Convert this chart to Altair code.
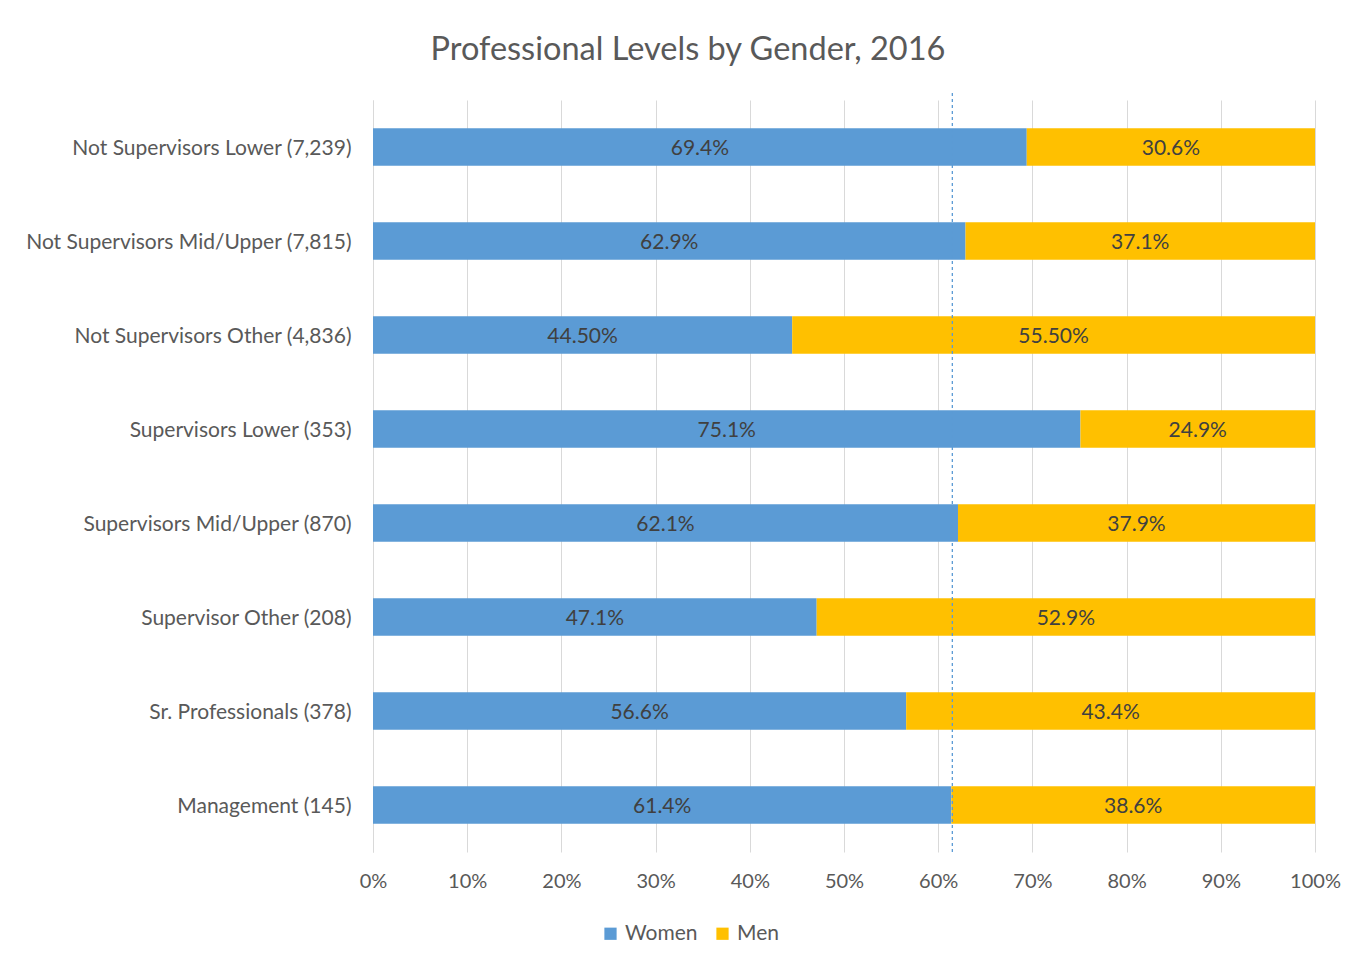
import altair as alt
import pandas as pd

categories = [
    "Not Supervisors Lower (7,239)",
    "Not Supervisors Mid/Upper (7,815)",
    "Not Supervisors Other (4,836)",
    "Supervisors Lower (353)",
    "Supervisors Mid/Upper (870)",
    "Supervisor Other (208)",
    "Sr. Professionals (378)",
    "Management (145)",
]
women = [69.4, 62.9, 44.5, 75.1, 62.1, 47.1, 56.6, 61.4]
men = [30.6, 37.1, 55.5, 24.9, 37.9, 52.9, 43.4, 38.6]
women_labels = ["69.4%", "62.9%", "44.50%", "75.1%", "62.1%", "47.1%", "56.6%", "61.4%"]
men_labels = ["30.6%", "37.1%", "55.50%", "24.9%", "37.9%", "52.9%", "43.4%", "38.6%"]
reference_line = [61.5]

rows = []
for i, c in enumerate(categories):
    rows.append({"category": c, "gender": "Women", "order": 0, "value": women[i], "label": women_labels[i]})
    rows.append({"category": c, "gender": "Men", "order": 1, "value": men[i], "label": men_labels[i]})
df = pd.DataFrame(rows)
ref_df = pd.DataFrame({"ref": reference_line})

FONT = "Lato"
GRAY = "#595959"
W, H = 942, 752

base = alt.Chart(df).transform_stack(
    stack="value", groupby=["category"], as_=["start", "end"],
    sort=[alt.SortField("order", order="ascending")]
).transform_calculate(mid="(datum.start + datum.end) / 2")

yenc = alt.Y("category:N", sort=categories, title=None,
             scale=alt.Scale(paddingInner=0.6, paddingOuter=0.3),
             axis=alt.Axis(labelFontSize=21, labelColor=GRAY, labelFont=FONT,
                           labelPadding=22, ticks=False, domain=True, labelOffset=2,
                           domainColor="#d9d9d9", labelLimit=400, grid=False))

bars = base.mark_bar().encode(
    x=alt.X("start:Q", title=None,
            scale=alt.Scale(domain=[0, 100], nice=False),
            axis=alt.Axis(values=list(range(0, 101, 10)), labelExpr="datum.value + '%'",
                          labelFontSize=20, labelColor=GRAY, labelFont=FONT,
                          labelAlign="center", labelFlush=False,
                          grid=True, gridColor="#d9d9d9", gridWidth=1,
                          domain=False, ticks=False, labelPadding=19)),
    x2="end:Q",
    y=yenc,
    color=alt.Color("gender:N", scale=alt.Scale(domain=["Women", "Men"], range=["#5b9bd5", "#ffc000"]),
                    legend=alt.Legend(title=None, orient="none", direction="horizontal",
                                      legendX=227, legendY=823, symbolType="square",
                                      symbolSize=150, labelFontSize=21, labelColor=GRAY,
                                      labelFont=FONT, columnPadding=14, symbolStrokeWidth=0)),
)

labels = base.mark_text(fontSize=21, font=FONT, color="#404040", dy=2).encode(
    x="mid:Q",
    y=alt.Y("category:N", sort=categories),
    text="label:N",
)

rule = alt.Chart(ref_df).mark_rule(color="#5b9bd5", strokeDash=[3, 3], strokeWidth=1.3).encode(
    x="ref:Q", y=alt.value(-7), y2=alt.value(H)
)

chart = alt.layer(bars, labels, rule).properties(
    width=W, height=H,
    autosize=alt.AutoSizeParams(type="none"),
    padding={"left": 365, "top": 92, "right": 40, "bottom": 106},
    title=alt.TitleParams("Professional Levels by Gender, 2016", fontSize=32.5, font=FONT,
                          color=GRAY, fontWeight="normal", dx=-156, offset=26),
).configure(background="white").configure_view(stroke=None)

chart.save("out.html", embed_options={"renderer": "svg", "actions": False})
